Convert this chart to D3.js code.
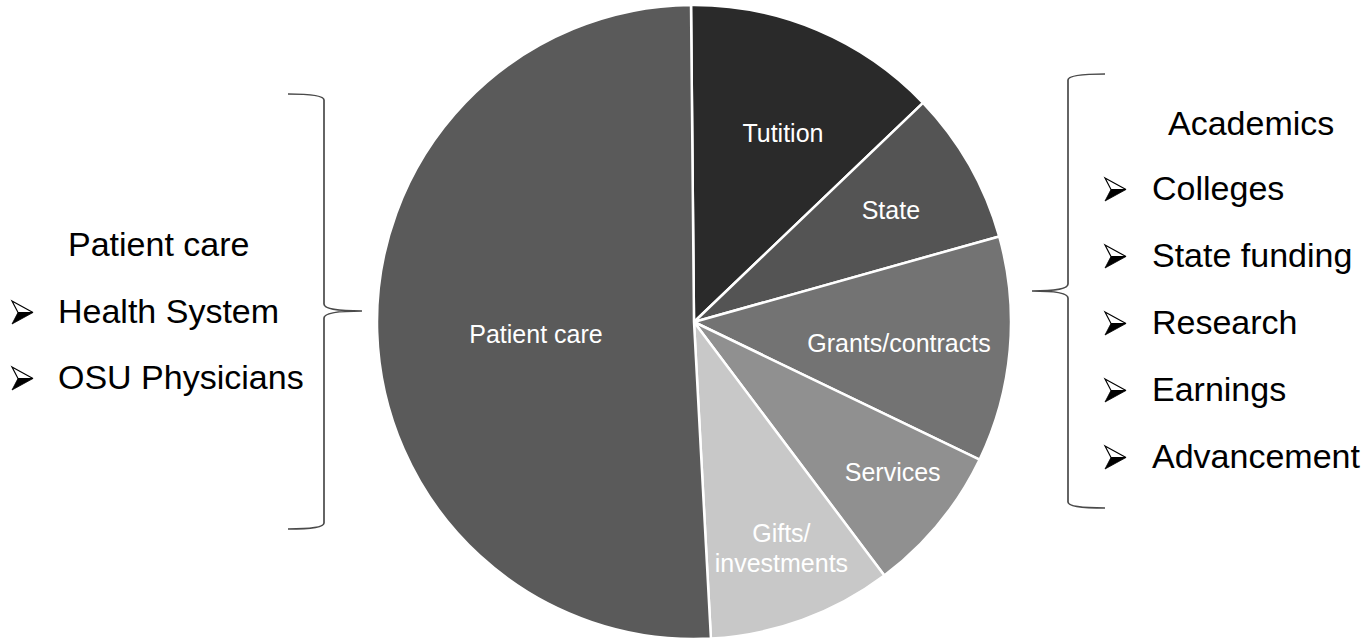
<!DOCTYPE html>
<html>
<head>
<meta charset="utf-8">
<script src="https://cdn.jsdelivr.net/npm/d3@7"></script>
<style>
  html, body { margin: 0; padding: 0; background: #fff; }
  text { font-family: "Liberation Sans", Arial, sans-serif; }
</style>
</head>
<body>
<div id="chart"></div>
<script>
// slice values, clockwise from 12 o'clock (percent of revenue)
const categories = ["Tutition", "State", "Grants/contracts", "Services", "Gifts/investments", "Patient care"];
const shares = [13.0, 7.8, 11.5, 7.6, 9.4, 50.7];
const sliceColors = ["#2a2a2a", "#545454", "#737373", "#909090", "#c8c8c8", "#5a5a5a"];
const sliceLabels = [["Tutition"], ["State"], ["Grants/contracts"], ["Services"], ["Gifts/", "investments"], ["Patient care"]];

const leftTitle = "Patient care";
const leftItems = ["Health System", "OSU Physicians"];
const rightTitle = "Academics";
const rightItems = ["Colleges", "State funding", "Research", "Earnings", "Advancement"];

const width = 1369, height = 641;
const cx = 694, cy = 322, radius = 317;

const svg = d3.select("#chart").append("svg")
  .attr("width", width)
  .attr("height", height);

const start = -0.54 * Math.PI / 180;
const pie = d3.pie().sort(null).value(d => d)
  .startAngle(start).endAngle(start + 2 * Math.PI);
const arcs = pie(shares);

const arc = d3.arc().innerRadius(0).outerRadius(radius);

const g = svg.append("g").attr("transform", `translate(${cx},${cy})`);

g.selectAll("path")
  .data(arcs)
  .enter().append("path")
  .attr("d", arc)
  .attr("fill", (d, i) => sliceColors[i])
  .attr("stroke", "#fff")
  .attr("stroke-width", 2.5)
  .attr("stroke-linejoin", "round");

// label placement: tweak of angle (deg) and radius fraction per slice
const labelAngleShift = [2.3, 0, 0.8, -2.4, -1.2, -2.6];
const labelRadius = [0.66, 0.715, 0.65, 0.785, 0.763, 0.50];

const labels = g.selectAll("text.slice")
  .data(arcs)
  .enter().append("text")
  .attr("class", "slice")
  .attr("text-anchor", "middle")
  .attr("font-size", "25px")
  .attr("fill", "#fff")
  .attr("transform", (d, i) => {
    const a = (d.startAngle + d.endAngle) / 2 + labelAngleShift[i] * Math.PI / 180;
    const r = radius * labelRadius[i];
    return `translate(${r * Math.sin(a)},${-r * Math.cos(a)})`;
  });

labels.each(function (d, i) {
  const lines = sliceLabels[i];
  const t = d3.select(this);
  lines.forEach((line, k) => {
    t.append("tspan")
      .attr("x", 0)
      .attr("y", (k - (lines.length - 1) / 2) * 30 + 9)
      .text(line);
  });
});

// curly braces
const braceColor = "#4a4a4a";
function brace(x0, xv, xt, y0, ym, y1) {
  // x0: end of arms, xv: vertical line, xt: tip
  const c = 6;
  const p = d3.path();
  p.moveTo(x0, y0);
  p.quadraticCurveTo(xv, y0, xv, y0 + c);
  p.lineTo(xv, ym - 7);
  p.quadraticCurveTo(xv, ym, xt, ym);
  p.quadraticCurveTo(xv, ym, xv, ym + 7);
  p.lineTo(xv, y1 - c);
  p.quadraticCurveTo(xv, y1, x0, y1);
  return p.toString();
}

svg.append("path")
  .attr("d", brace(288, 324, 362, 94, 311, 529))
  .attr("fill", "none")
  .attr("stroke", braceColor)
  .attr("stroke-width", 1.7);

svg.append("path")
  .attr("d", brace(1105, 1068, 1032, 74, 291, 508))
  .attr("fill", "none")
  .attr("stroke", braceColor)
  .attr("stroke-width", 1.7);

// arrow bullets
function bullet(x, baseline) {
  const top = baseline - 22, bot = baseline + 1, mid = baseline - 10.5;
  const b = svg.append("g");
  b.append("path")
    .attr("d", `M${x},${top} L${x + 21},${mid} L${x + 6},${mid} Z`)
    .attr("fill", "#fff")
    .attr("stroke", "#000")
    .attr("stroke-width", 1.2)
    .attr("stroke-linejoin", "miter");
  b.append("path")
    .attr("d", `M${x + 6},${mid} L${x + 21},${mid} L${x},${bot} Z`)
    .attr("fill", "#000")
    .attr("stroke", "#000")
    .attr("stroke-width", 0.8);
}

const sideFont = "34px";

svg.append("text")
  .attr("x", 68).attr("y", 256)
  .attr("font-size", sideFont)
  .attr("fill", "#000")
  .text(leftTitle);

leftItems.forEach((t, i) => {
  const base = 323 + i * 66;
  bullet(12, base);
  svg.append("text")
    .attr("x", 58).attr("y", base)
    .attr("font-size", sideFont)
    .attr("fill", "#000")
    .text(t);
});

svg.append("text")
  .attr("x", 1168).attr("y", 135)
  .attr("font-size", sideFont)
  .attr("fill", "#000")
  .text(rightTitle);

rightItems.forEach((t, i) => {
  const base = 200 + i * 67;
  bullet(1105, base);
  svg.append("text")
    .attr("x", 1152).attr("y", base)
    .attr("font-size", sideFont)
    .attr("fill", "#000")
    .text(t);
});
</script>
</body>
</html>
